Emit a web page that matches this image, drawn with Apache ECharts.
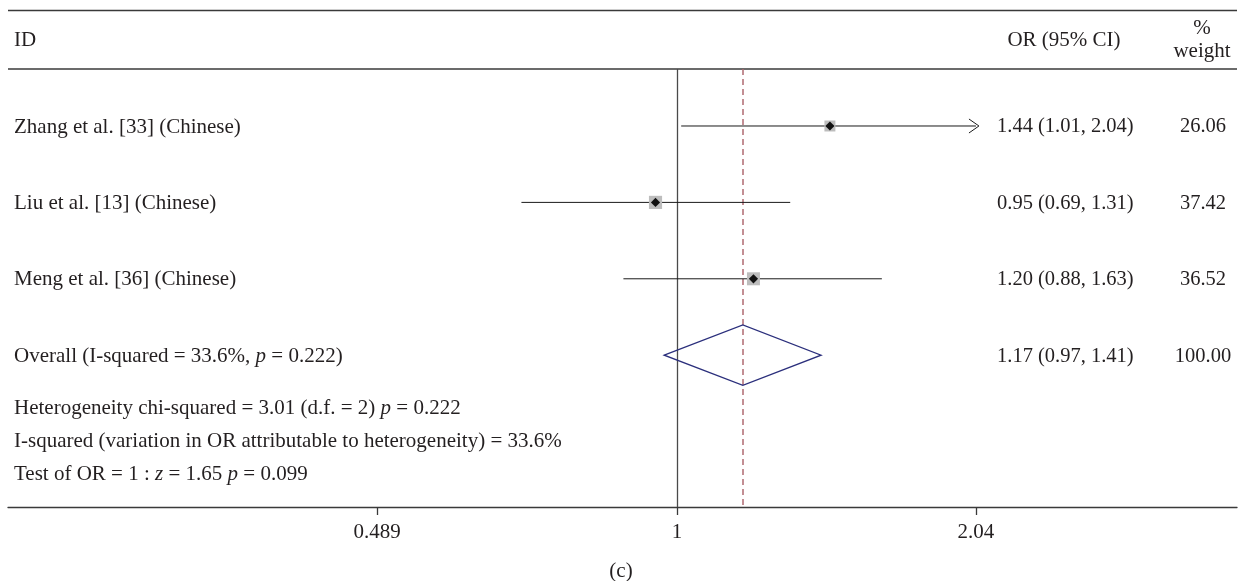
<!DOCTYPE html>
<html>
<head>
<meta charset="utf-8">
<script src="https://cdn.jsdelivr.net/npm/echarts@6/dist/echarts.min.js"></script>
<style>html,body{margin:0;padding:0;background:#fff;}#c{width:1243px;height:581px;}</style>
</head>
<body>
<div id="c"></div>
<script>
const studies = ['Zhang et al. [33] (Chinese)', 'Liu et al. [13] (Chinese)', 'Meng et al. [36] (Chinese)'];
const orVals = [1.44, 0.95, 1.20];
const ciLow = [1.01, 0.69, 0.88];
const ciHigh = [2.04, 1.31, 1.63];
const weights = [26.06, 37.42, 36.52];
const clippedHigh = [true, false, false];
const overallOR = 1.17, overallLow = 0.97, overallHigh = 1.41, overallWeight = 100.00;
const tickValues = [0.489, 1, 2.04];
const tickLabels = ['0.489', '1', '2.04'];
const statLines = [
  [{t:'Heterogeneity chi-squared = 3.01 (d.f. = 2) '},{t:'p',i:1},{t:' = 0.222'}],
  [{t:'I-squared (variation in OR attributable to heterogeneity) = 33.6%'}],
  [{t:'Test of OR = 1 : '},{t:'z',i:1},{t:' = 1.65 '},{t:'p',i:1},{t:' = 0.099'}]
];

const FONT = '"Liberation Serif", "Times New Roman", serif';
const FS = 21;
const FSN = 20.5;
const TXT = '#231f20';
const font = FS + 'px ' + FONT;
const fontN = FSN + 'px ' + FONT;

function richText(parts) {
  return parts.map(p => p.i ? '{it|' + p.t + '}' : '{n|' + p.t + '}').join('');
}
const rich = {
  n: {fontFamily: FONT, fontSize: FS, fill: TXT, color: TXT},
  it: {fontFamily: FONT, fontSize: FS, fontStyle: 'italic', fill: TXT, color: TXT}
};

const rows = studies.map((s, i) => ({value: [orVals[i], i + 1, ciLow[i], ciHigh[i], weights[i], i]}));
rows.push({value: [overallOR, 4, overallLow, overallHigh, overallWeight, -1]});

const fmt = v => v.toFixed(2);

function renderItem(params, api) {
  const or = api.value(0), row = api.value(1), lo = api.value(2), hi = api.value(3), w = api.value(4), idx = api.value(5);
  const c = api.coord([or, row]);
  const y = c[1];
  const ty = y + 1;
  const children = [];
  const orText = fmt(or) + ' (' + fmt(lo) + ', ' + fmt(hi) + ')';
  if (idx >= 0) {
    const pl = api.coord([lo, row]), ph = api.coord([hi, row]);
    children.push({type: 'line', shape: {x1: pl[0], y1: y, x2: ph[0], y2: y}, style: {stroke: '#1a1a1a', lineWidth: 1}});
    if (clippedHigh[idx]) {
      children.push({type: 'polyline', shape: {points: [[ph[0] - 7, y - 7], [ph[0] + 3, y], [ph[0] - 7, y + 7]]}, style: {stroke: '#1a1a1a', lineWidth: 1, fill: 'none'}});
    }
    const s = 2.15 * Math.sqrt(w);
    children.push({type: 'rect', shape: {x: c[0] - s / 2, y: y - s / 2, width: s, height: s}, style: {fill: '#bdbdbd'}});
    const d = 4.6;
    children.push({type: 'polygon', shape: {points: [[c[0] - d, y], [c[0], y - d], [c[0] + d, y], [c[0], y + d]]}, style: {fill: '#111'}});
    children.push({type: 'text', style: {x: 14, y: ty, text: studies[idx], font: font, fill: TXT, verticalAlign: 'middle', align: 'left'}});
  } else {
    const pl = api.coord([lo, row]), ph = api.coord([hi, row]);
    const top = api.coord([or, row - 0.395]), bot = api.coord([or, row + 0.395]);
    children.push({type: 'polygon', shape: {points: [[pl[0], y], [top[0], top[1]], [ph[0], y], [bot[0], bot[1]]]}, style: {fill: 'none', stroke: '#2b2f7c', lineWidth: 1.3}});
    children.push({type: 'text', style: {x: 14, y: ty, text: richText([{t:'Overall (I-squared = 33.6%, '},{t:'p',i:1},{t:' = 0.222)'}]), rich: rich, font: font, fill: TXT, verticalAlign: 'middle', align: 'left'}});
  }
  children.push({type: 'text', style: {x: 997, y: ty, text: orText, font: fontN, fill: TXT, verticalAlign: 'middle', align: 'left'}});
  children.push({type: 'text', style: {x: 1203, y: ty, text: w.toFixed(2), font: fontN, fill: TXT, verticalAlign: 'middle', align: 'center'}});
  return {type: 'group', children: children};
}

const chart = echarts.init(document.getElementById('c'), null, {renderer: 'canvas'});

const graphics = [
  {type: 'line', shape: {x1: 8, y1: 10.5, x2: 1237, y2: 10.5}, style: {stroke: '#3a3a3a', lineWidth: 1.3}},
  {type: 'line', shape: {x1: 8, y1: 69, x2: 1237, y2: 69}, style: {stroke: '#3a3a3a', lineWidth: 1.3}},
  {type: 'text', style: {x: 14, y: 40, text: 'ID', font: font, fill: TXT, verticalAlign: 'middle'}},
  {type: 'text', style: {x: 1064, y: 40, text: 'OR (95% CI)', font: font, fill: TXT, verticalAlign: 'middle', align: 'center'}},
  {type: 'text', style: {x: 1202, y: 28, text: '%', font: font, fill: TXT, verticalAlign: 'middle', align: 'center'}},
  {type: 'text', style: {x: 1202, y: 51, text: 'weight', font: font, fill: TXT, verticalAlign: 'middle', align: 'center'}},
  {type: 'text', style: {x: 621, y: 571, text: '(c)', font: font, fill: TXT, verticalAlign: 'middle', align: 'center'}}
];
const statY = [408, 441, 474];
statLines.forEach((parts, i) => {
  graphics.push({type: 'text', style: {x: 14, y: statY[i], text: richText(parts), rich: rich, font: font, fill: TXT, verticalAlign: 'middle'}});
});

chart.setOption({
  animation: false,
  grid: {left: 8, right: 6, top: 69, bottom: 74, containLabel: false},
  xAxis: {
    type: 'log',
    logBase: Math.E,
    min: 0.2028,
    max: 3.802,
    splitLine: {show: false},
    axisLine: {show: true, lineStyle: {color: '#3a3a3a', width: 1.3}},
    axisTick: {show: true, length: 8, customValues: tickValues, lineStyle: {color: '#3a3a3a', width: 1.3}},
    axisLabel: {show: true, customValues: tickValues, margin: 15,
      formatter: v => { const k = tickValues.findIndex(t => Math.abs(t - v) < 1e-6); return k >= 0 ? tickLabels[k] : ''; },
      fontFamily: FONT, fontSize: FS, color: TXT},
    minorTick: {show: false}
  },
  yAxis: {type: 'value', min: 0.254, max: 5.987, inverse: true, show: false},
  graphic: graphics,
  series: [{
    type: 'custom',
    renderItem: renderItem,
    data: rows,
    clip: false,
    silent: true,
    z: 5,
    markLine: {
      silent: true,
      symbol: 'none',
      label: {show: false},
      data: [
        {xAxis: 1, lineStyle: {color: '#4a4a4a', width: 1.3, type: 'solid'}},
        {xAxis: overallOR, lineStyle: {color: '#b06a72', width: 1.5, type: [6, 4]}}
      ]
    }
  }]
});
</script>
</body>
</html>
